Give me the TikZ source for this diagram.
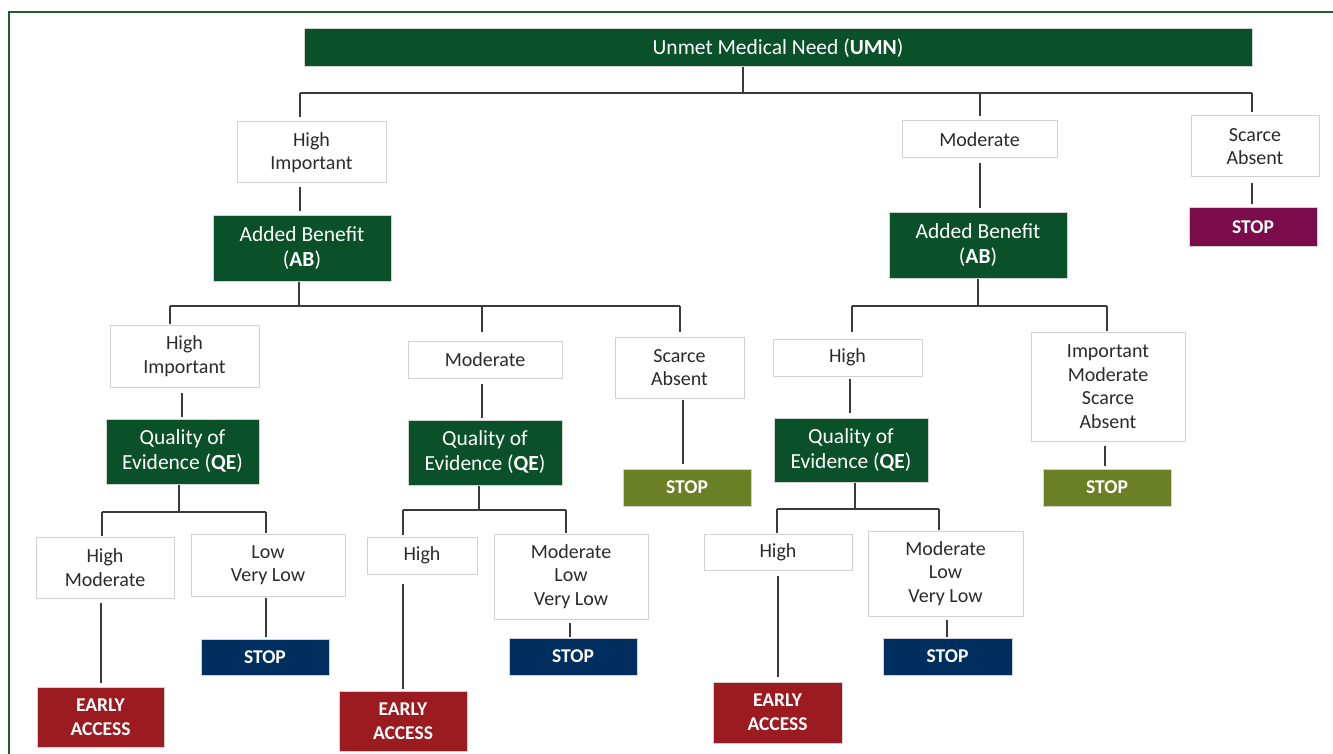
\documentclass[tikz,border=0pt]{standalone}
\usepackage{fontspec}
\setmainfont{Carlito}
\definecolor{dgreen}{HTML}{0A5129}
\definecolor{dred}{HTML}{9B1B20}
\definecolor{dnavy}{HTML}{002F5F}
\definecolor{dolive}{HTML}{6B7F25}
\definecolor{dpurple}{HTML}{7A0C4C}
\definecolor{bgray}{HTML}{D2D2D2}
\definecolor{frameg}{HTML}{1E5E33}
\definecolor{txt}{HTML}{2B2B2B}
\definecolor{lgray}{HTML}{3A3A3A}
\newcommand\bx[7]{\node[#6, minimum width={#3-#2}, minimum height={#5-#4}] (#1) at ({(#2+#3)/2},{(#4+#5)/2}) {#7};}
\tikzset{
  base/.style={draw=bgray, line width=1pt, inner sep=0pt, align=center, font=\fontsize{20}{23.5}\selectfont},
  wbox/.style={base, fill=white, text=txt},
  gbox/.style={base, fill=dgreen, text=white, font=\fontsize{21.5}{25}\selectfont},
  stopbox/.style={base, text=white, font=\fontsize{19.5}{24}\selectfont\bfseries},
  conn/.style={draw=lgray, line width=1.2pt},
}
\begin{document}
\begin{tikzpicture}[x=1pt,y=-1pt]
\useasboundingbox (0,0) rectangle (1333,754);
\fill[white] (0,0) rectangle (1333,754);
% frame
\coordinate (fc) at (9,12);
\draw[frameg, line width=2pt] (9,754) -- (fc) -- (1333,12);
% nodes
\bx{umn}{304}{1252}{29}{67}{gbox}{Unmet Medical Need (\textbf{UMN})}
\bx{hi1}{237}{386}{122}{183}{wbox}{High\\Important}
\bx{mod1}{902}{1057}{121}{158}{wbox}{Moderate}
\bx{sa1}{1191}{1319}{116}{177}{wbox}{Scarce\\Absent}
\bx{stopP}{1189}{1317}{208}{246}{stopbox,fill=dpurple}{STOP}
\bx{abL}{213}{391}{216}{281}{gbox}{Added Benefit\\(\textbf{AB})}
\bx{abR}{889}{1067}{213}{278}{gbox}{Added Benefit\\(\textbf{AB})}
\bx{hi2}{110}{259}{325}{387}{wbox}{High\\Important}
\bx{mod2}{408}{562}{341}{378}{wbox}{Moderate}
\bx{sa2}{615}{744}{337}{398}{wbox}{Scarce\\Absent}
\bx{hi3}{773}{922}{339}{376}{wbox}{High}
\bx{imsa}{1031}{1185}{332}{441}{wbox}{Important\\Moderate\\Scarce\\Absent}
\bx{qe1}{106}{259}{419}{484}{gbox}{Quality of\\Evidence (\textbf{QE})}
\bx{qe2}{408}{562}{420}{485}{gbox}{Quality of\\Evidence (\textbf{QE})}
\bx{qe3}{774}{928}{418}{482}{gbox}{Quality of\\Evidence (\textbf{QE})}
\bx{stopO1}{623}{751}{469}{506}{stopbox,fill=dolive}{STOP}
\bx{stopO2}{1043}{1171}{469}{506}{stopbox,fill=dolive}{STOP}
\bx{hm}{36}{174}{537}{598}{wbox}{High\\Moderate}
\bx{lvl}{191}{345}{534}{596}{wbox}{Low\\Very Low}
\bx{h4}{367}{477}{537}{574}{wbox}{High}
\bx{mlv1}{494}{648}{534}{619}{wbox}{Moderate\\Low\\Very Low}
\bx{h5}{704}{852}{534}{570}{wbox}{High}
\bx{mlv2}{868}{1023}{531}{616}{wbox}{Moderate\\Low\\Very Low}
\bx{stopN1}{201}{329}{639}{675}{stopbox,fill=dnavy}{STOP}
\bx{stopN2}{509}{637}{638}{675}{stopbox,fill=dnavy}{STOP}
\bx{stopN3}{883}{1012}{638}{675}{stopbox,fill=dnavy}{STOP}
\bx{ea1}{37}{164}{687}{747}{stopbox,fill=dred}{EARLY\\ACCESS}
\bx{ea2}{339}{467}{691}{751}{stopbox,fill=dred}{EARLY\\ACCESS}
\bx{ea3}{713}{842}{682}{743}{stopbox,fill=dred}{EARLY\\ACCESS}
% bus coordinates
\coordinate (u0) at (743,93);
\coordinate (u1) at (300,93);
\coordinate (u2) at (980,93);
\coordinate (u3) at (1252,93);
\coordinate (a0) at (299,306);
\coordinate (a1) at (170,306);
\coordinate (a2) at (482,306);
\coordinate (a3) at (680,306);
\coordinate (b0) at (978,306);
\coordinate (b1) at (852,306);
\coordinate (b2) at (1107,306);
\coordinate (q0) at (179,512);
\coordinate (q1) at (102,512);
\coordinate (q2) at (266,512);
\coordinate (r0) at (479,510);
\coordinate (r1) at (403,510);
\coordinate (r2) at (566,510);
\coordinate (s0) at (855,509);
\coordinate (s1) at (777,509);
\coordinate (s2) at (939,509);
% connectors
\draw[conn] (umn.south -| u0) -- (u0);
\draw[conn] (u1) -- (u3);
\draw[conn, shorten >=4pt] (u1) -- (u1 |- hi1.north);
\draw[conn, shorten >=4pt] (u2) -- (u2 |- mod1.north);
\draw[conn, shorten >=3pt] (u3) -- (u3 |- sa1.north);
\draw[conn, shorten <=4pt, shorten >=4pt] (hi1.south -| u1) -- (u1 |- abL.north);
\draw[conn, shorten <=5pt, shorten >=4pt] (mod1.south -| u2) -- (u2 |- abR.north);
\draw[conn, shorten <=6pt, shorten >=3pt] (sa1.south -| u3) -- (u3 |- stopP.north);
\draw[conn] (abL.south -| a0) -- (a0);
\draw[conn] (a1) -- (a3);
\draw[conn, shorten >=1pt] (a1) -- (a1 |- hi2.north);
\draw[conn, shorten >=9pt] (a2) -- (a2 |- mod2.north);
\draw[conn, shorten >=5pt] (a3) -- (a3 |- sa2.north);
\coordinate (t1) at (182,0);
\coordinate (t2) at (683,0);
\draw[conn, shorten <=5pt, shorten >=2pt] (hi2.south -| t1) -- (t1 |- qe1.north);
\draw[conn, shorten <=5pt, shorten >=2pt] (mod2.south -| a2) -- (a2 |- qe2.north);
\draw[conn, shorten <=1pt, shorten >=5pt] (sa2.south -| t2) -- (t2 |- stopO1.north);
\draw[conn] (abR.south -| b0) -- (b0);
\draw[conn] (b1) -- (b2);
\draw[conn, shorten >=7pt] (b1) -- (b1 |- hi3.north);
\draw[conn, shorten >=1pt] (b2) -- (b2 |- imsa.north);
\coordinate (t3) at (850,0);
\coordinate (t4) at (1105,0);
\draw[conn, shorten <=2pt, shorten >=5pt] (hi3.south -| t3) -- (t3 |- qe3.north);
\draw[conn, shorten <=4pt, shorten >=3pt] (imsa.south -| t4) -- (t4 |- stopO2.north);
\draw[conn] (qe1.south -| q0) -- (q0);
\draw[conn] (q1) -- (q2);
\draw[conn, shorten >=1pt] (q1) -- (q1 |- hm.north);
\draw[conn, shorten >=1pt] (q2) -- (q2 |- lvl.north);
\coordinate (t5) at (101,0);
\draw[conn, shorten <=4pt, shorten >=4pt] (hm.south -| t5) -- (t5 |- ea1.north);
\draw[conn, shorten <=1pt, shorten >=2pt] (lvl.south -| q2) -- (q2 |- stopN1.north);
\draw[conn] (qe2.south -| r0) -- (r0);
\draw[conn] (r1) -- (r2);
\draw[conn, shorten >=2pt] (r1) -- (r1 |- h4.north);
\draw[conn, shorten >=1pt] (r2) -- (r2 |- mlv1.north);
\coordinate (t6) at (570,0);
\draw[conn, shorten <=9pt, shorten >=2pt] (h4.south -| r1) -- (r1 |- ea2.north);
\draw[conn, shorten <=3pt, shorten >=1pt] (mlv1.south -| t6) -- (t6 |- stopN2.north);
\draw[conn] (qe3.south -| s0) -- (s0);
\draw[conn] (s1) -- (s2);
\draw[conn, shorten >=1pt] (s1) -- (s1 |- h5.north);
\draw[conn, shorten >=1pt] (s2) -- (s2 |- mlv2.north);
\coordinate (t7) at (778,0);
\coordinate (t8) at (947,0);
\draw[conn, shorten <=5pt, shorten >=5pt] (h5.south -| t7) -- (t7 |- ea3.north);
\draw[conn, shorten <=3pt, shorten >=1pt] (mlv2.south -| t8) -- (t8 |- stopN3.north);
\end{tikzpicture}
\end{document}
